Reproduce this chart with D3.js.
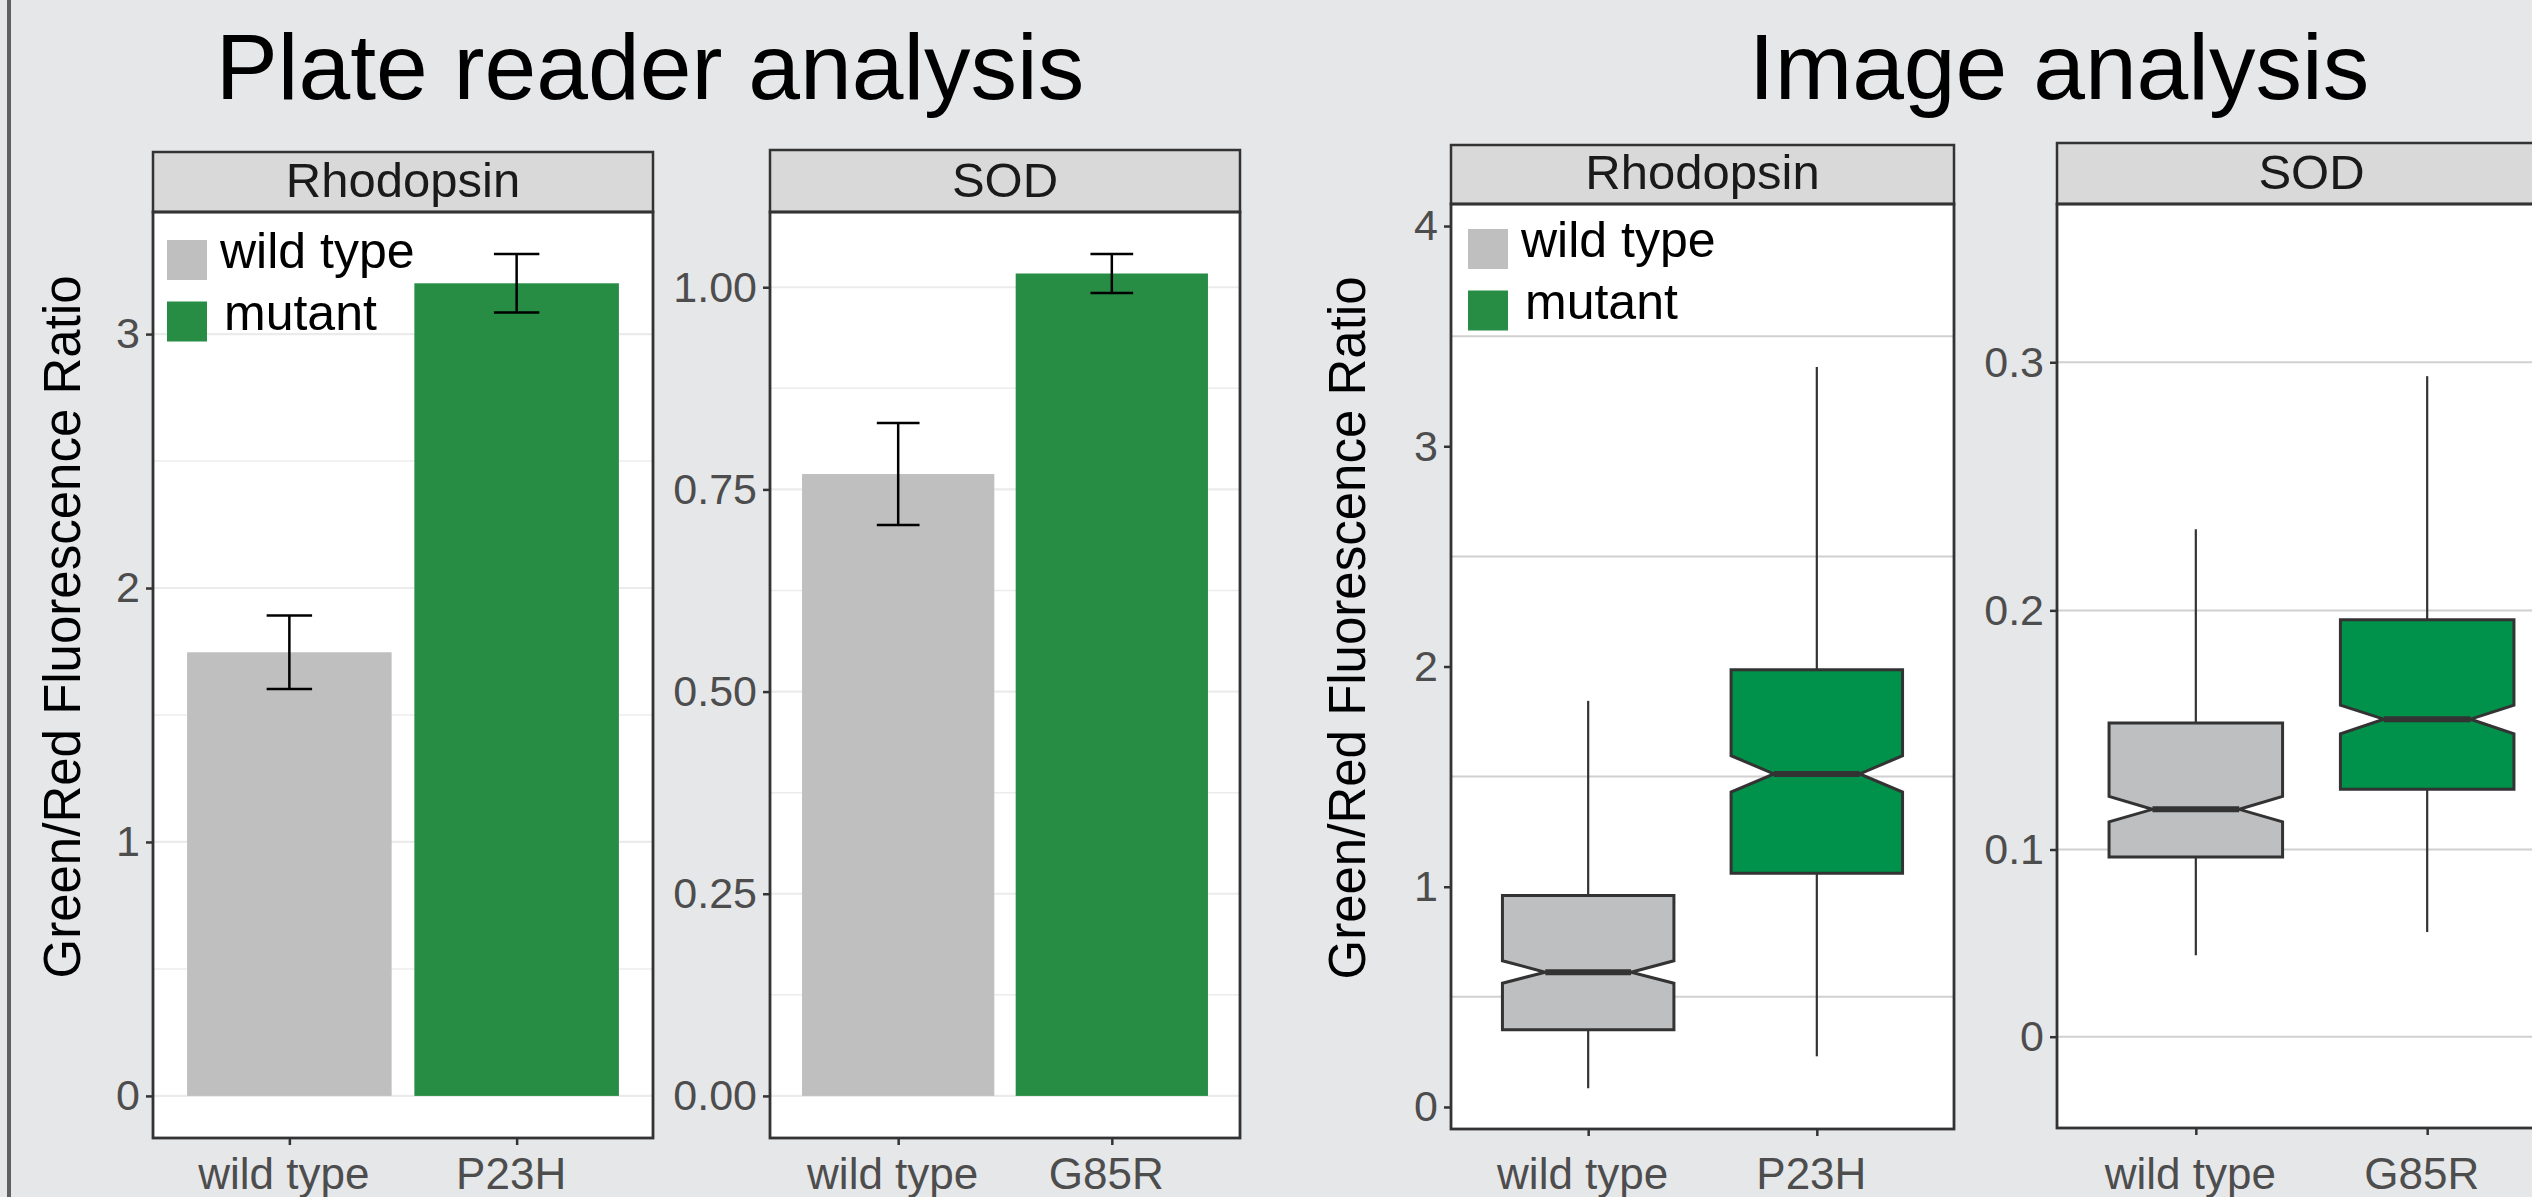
<!DOCTYPE html>
<html>
<head>
<meta charset="utf-8">
<script src="https://cdn.jsdelivr.net/npm/d3@7"></script>
<style>
  body { margin: 0; background: #e6e7e9; }
  svg { display: block; font-family: "Liberation Sans", Arial, Helvetica, sans-serif; }
</style>
</head>
<body>
<div id="chart"></div>
<script>
// categories
const rhoCats = ["wild type", "P23H"];
const sodCats = ["wild type", "G85R"];
const legendLabels = ["wild type", "mutant"];

// plate reader: mean and error half-width
const plateRhoMean = [1.747, 3.20];
const plateRhoErr  = [0.145, 0.115];
const plateSodMean = [0.769, 1.017];
const plateSodErr  = [0.063, 0.024];

// image analysis: [ymin, lower, notchLower, middle, notchUpper, upper, ymax]
const imgRhoStats = [
    [0.085, 0.351, 0.562, 0.612, 0.664, 0.960, 1.844],
    [0.230, 1.061, 1.430, 1.512, 1.595, 1.985, 3.360]
];
const imgSodStats = [
    [0.0435, 0.0960, 0.1116, 0.1168, 0.1222, 0.1529, 0.2327],
    [0.0559, 0.1252, 0.1484, 0.1545, 0.1604, 0.1961, 0.2944]
];

// tick labels
const plateRhoTicks = [0, 1, 2, 3];
const plateSodTicks = [0, 0.25, 0.5, 0.75, 1];
const imgRhoTicks = [0, 1, 2, 3, 4];
const imgSodTicks = [0, 0.1, 0.2, 0.3];
const imgRhoGrid = [0.5, 1.5, 2.5, 3.5];

const width = 2532;
const height = 1197;
const grayFill = '#bfbfbf';
const greenBar = '#278d44';
const greenBox = '#00924a';
const ink = '#333333';
const tickInk = '#4d4d4d';

const svg = d3.select('#chart').append('svg')
    .attr('width', width)
    .attr('height', height);

svg.append('rect').attr('width', width).attr('height', height).attr('fill', '#e6e7e9');
svg.append('line')
    .attr('x1', 9).attr('x2', 9).attr('y1', 0).attr('y2', height)
    .attr('stroke', '#606060').attr('stroke-width', 4);

// titles
svg.append('text').attr('x', 650).attr('y', 99).attr('text-anchor', 'middle')
    .attr('font-size', 93).attr('fill', '#000').text('Plate reader analysis');
svg.append('text').attr('x', 2059).attr('y', 99).attr('text-anchor', 'middle')
    .attr('font-size', 93).attr('fill', '#000').text('Image analysis');

function yTitle(x, y) {
    svg.append('text')
        .attr('transform', `translate(${x},${y}) rotate(-90)`)
        .attr('text-anchor', 'middle')
        .attr('font-size', 51)
        .attr('fill', '#000')
        .text('Green/Red Fluorescence Ratio');
}
yTitle(80, 627);
yTitle(1365, 628);

// panel frame: strip, background, grid, axes
function panel(p) {
    const g = svg.append('g');
    g.append('rect')
        .attr('x', p.x0).attr('y', p.top)
        .attr('width', p.x1 - p.x0).attr('height', p.bottom - p.top)
        .attr('fill', '#fff');

    p.grid.forEach(gl => {
        g.selectAll(null).data(gl.values).join('line')
            .attr('x1', p.x0).attr('x2', p.x1)
            .attr('y1', d => p.y(d)).attr('y2', d => p.y(d))
            .attr('stroke', gl.color).attr('stroke-width', gl.w);
    });

    const yAxis = g.append('g')
        .attr('transform', `translate(${p.x0},0)`)
        .call(d3.axisLeft(p.y).tickValues(p.ticks).tickFormat(p.fmt).tickSize(7).tickPadding(6));
    yAxis.select('.domain').remove();
    yAxis.selectAll('line').attr('stroke', ink).attr('stroke-width', 2.5);
    yAxis.selectAll('text').attr('font-size', 43).attr('fill', tickInk)
        .attr('font-family', '"Liberation Sans", Arial, sans-serif');

    const xAxis = g.append('g')
        .attr('transform', `translate(0,${p.bottom + 1})`)
        .call(d3.axisBottom(p.x).tickSize(6));
    xAxis.select('.domain').remove();
    xAxis.selectAll('line').attr('stroke', ink).attr('stroke-width', 2.5);
    xAxis.selectAll('text').attr('font-size', 44).attr('fill', tickInk)
        .attr('font-family', '"Liberation Sans", Arial, sans-serif')
        .attr('dy', null).attr('x', -6).attr('y', 1189 - p.bottom - 1);

    p.layer = svg.append('g');

    // strip
    svg.append('rect')
        .attr('x', p.x0).attr('y', p.stripTop)
        .attr('width', p.x1 - p.x0).attr('height', p.top - p.stripTop)
        .attr('fill', '#d9d9d9').attr('stroke', ink).attr('stroke-width', 2.5);
    svg.append('text')
        .attr('x', (p.x0 + p.x1) / 2).attr('y', p.top - 15)
        .attr('text-anchor', 'middle').attr('font-size', 49).attr('fill', '#1a1a1a')
        .text(p.label);
    return p;
}

function frame(p) {
    svg.append('rect')
        .attr('x', p.x0).attr('y', p.top)
        .attr('width', p.x1 - p.x0).attr('height', p.bottom - p.top)
        .attr('fill', 'none').attr('stroke', ink).attr('stroke-width', 2.8);
}

function legend(x, y, keyColors) {
    const lg = svg.append('g').attr('transform', `translate(${x},${y})`);
    lg.selectAll('rect').data(legendLabels).join('rect')
        .attr('x', 0).attr('y', (d, i) => i * 61.5)
        .attr('width', 40).attr('height', 40)
        .attr('fill', (d, i) => keyColors[i]);
    lg.selectAll('text').data(legendLabels).join('text')
        .attr('x', (d, i) => i ? 57 : 53).attr('y', (d, i) => 28 + i * 61.5)
        .attr('font-size', 50).attr('fill', '#000')
        .text(d => d);
}

function barPanel(p, cats, mean, err) {
    const top = d3.max(mean, (d, i) => d + err[i]);
    const pad = top * 0.05;
    p.x = d3.scalePoint().domain(cats).range([p.x0, p.x1]).padding(0.6);
    p.y = d3.scaleLinear().domain([-pad, top + pad]).range([p.bottom, p.top]);
    const minor = p.ticks.slice(0, -1).map((d, i) => (d + p.ticks[i + 1]) / 2);
    p.grid = [{ values: minor, color: '#ececec', w: 1.5 }, { values: p.ticks, color: '#ebebeb', w: 2.2 }];
    panel(p);
    const step = p.x.step();
    p.layer.selectAll('rect').data(cats).join('rect')
        .attr('x', d => p.x(d) - step * 0.45)
        .attr('width', step * 0.9)
        .attr('y', (d, i) => p.y(mean[i]))
        .attr('height', (d, i) => p.y(0) - p.y(mean[i]))
        .attr('fill', (d, i) => i ? greenBar : grayFill);
    const eb = p.layer.selectAll('g.eb').data(cats).join('g').attr('class', 'eb')
        .attr('stroke', '#000').attr('stroke-width', 2.5);
    eb.append('line')
        .attr('x1', d => p.x(d)).attr('x2', d => p.x(d))
        .attr('y1', (d, i) => p.y(mean[i] - err[i])).attr('y2', (d, i) => p.y(mean[i] + err[i]));
    [-1, 1].forEach(s => {
        eb.append('line')
            .attr('x1', d => p.x(d) - step * 0.1).attr('x2', d => p.x(d) + step * 0.1)
            .attr('y1', (d, i) => p.y(mean[i] + s * err[i])).attr('y2', (d, i) => p.y(mean[i] + s * err[i]));
    });
    frame(p);
}

function boxPanel(p, cats, stats) {
    p.x = d3.scalePoint().domain(cats).range([p.x0, p.x1]).padding(0.6);
    panel(p);
    const step = p.x.step();
    const hw = step * 0.375;
    const line = d3.line().x(d => d[0]).y(d => p.y(d[1]));
    cats.forEach((c, i) => {
        const [ymin, lo, nlo, mid, nhi, hi, ymax] = stats[i];
        const cx = p.x(c);
        p.layer.append('path')
            .attr('d', line([[cx, lo], [cx, ymin]]))
            .attr('stroke', ink).attr('stroke-width', 2.2);
        p.layer.append('path')
            .attr('d', line([[cx, hi], [cx, ymax]]))
            .attr('stroke', ink).attr('stroke-width', 2.2);
        p.layer.append('path')
            .attr('d', line([
                [cx - hw, hi], [cx + hw, hi], [cx + hw, nhi], [cx + hw / 2, mid],
                [cx + hw, nlo], [cx + hw, lo], [cx - hw, lo], [cx - hw, nlo],
                [cx - hw / 2, mid], [cx - hw, nhi]
            ]) + 'Z')
            .attr('fill', i ? greenBox : '#bebfc1')
            .attr('stroke', ink).attr('stroke-width', 3).attr('stroke-linejoin', 'miter');
        p.layer.append('path')
            .attr('d', line([[cx - hw / 2, mid], [cx + hw / 2, mid]]))
            .attr('stroke', ink).attr('stroke-width', 6);
    });
    frame(p);
}

barPanel({ label: 'Rhodopsin', x0: 153, x1: 653, stripTop: 152, top: 212, bottom: 1138,
    ticks: plateRhoTicks, fmt: d3.format('d') }, rhoCats, plateRhoMean, plateRhoErr);
barPanel({ label: 'SOD', x0: 770, x1: 1240, stripTop: 150, top: 212, bottom: 1138,
    ticks: plateSodTicks, fmt: d3.format('.2f') }, sodCats, plateSodMean, plateSodErr);

const rhoImg = { label: 'Rhodopsin', x0: 1451, x1: 1954, stripTop: 145, top: 204, bottom: 1129,
    ticks: imgRhoTicks, fmt: d3.format('d') };
rhoImg.y = d3.scaleLinear().domain([-0.1, 4.1]).range([rhoImg.bottom, rhoImg.top]);
rhoImg.grid = [{ values: imgRhoGrid, color: '#d0d0d0', w: 2 }];
boxPanel(rhoImg, rhoCats, imgRhoStats);

// the SOD image axis is uneven in the original, so the scale is piecewise
const sodImg = { label: 'SOD', x0: 2057, x1: 2566, stripTop: 143, top: 204, bottom: 1128,
    ticks: imgSodTicks, fmt: d3.format('') };
sodImg.y = d3.scaleLinear().domain(imgSodTicks)
    .range([0.9012, 0.6986, 0.4398, 0.1713].map(f => sodImg.top + f * (sodImg.bottom - sodImg.top)));
sodImg.grid = [{ values: imgSodTicks, color: '#d0d0d0', w: 2 }];
boxPanel(sodImg, sodCats, imgSodStats);

legend(167, 240, [grayFill, greenBar]);
legend(1468, 229, [grayFill, greenBar]);
</script>
</body>
</html>
